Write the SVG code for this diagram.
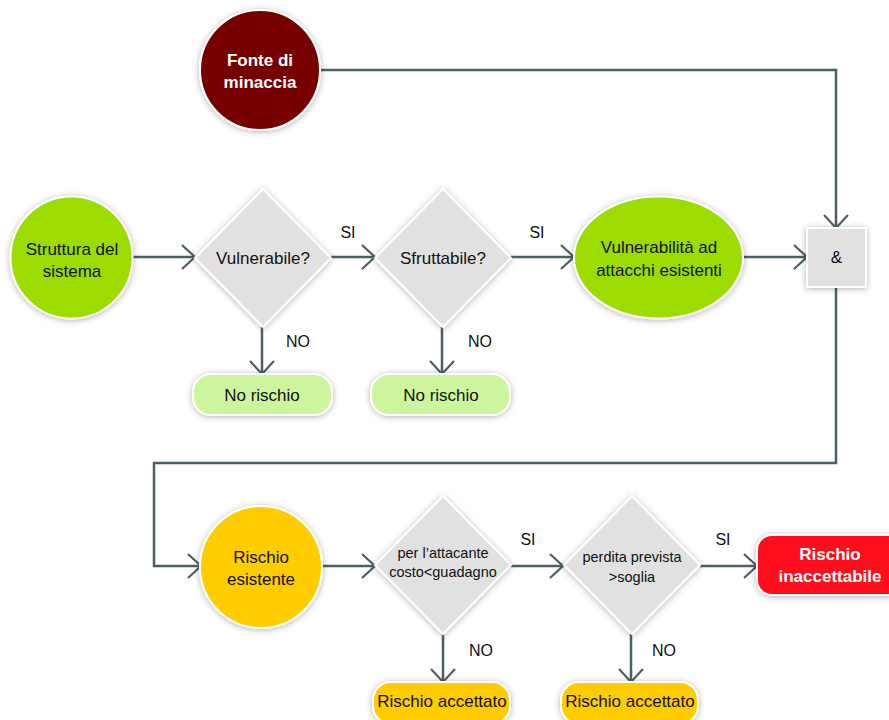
<svg xmlns="http://www.w3.org/2000/svg" width="889" height="720" viewBox="0 0 889 720">
  <defs>
    <filter id="shadow" x="-30%" y="-30%" width="160%" height="160%">
      <feDropShadow dx="0" dy="1" stdDeviation="3" flood-color="#000" flood-opacity="0.3"/>
    </filter>
    <marker id="chev" viewBox="-15 -14 17 28" refX="0" refY="0" markerWidth="17" markerHeight="28" markerUnits="userSpaceOnUse" orient="auto">
      <path d="M-13,-12 L0,0 L-13,12" fill="none" stroke="#4b5f66" stroke-width="2.2"/>
    </marker>
    <style>
      .node { stroke: #ffffff; stroke-width: 2; filter: url(#shadow); }
      .dark { fill: #760000; }
      .green { fill: #9cdc00; }
      .light { fill: #cdf59e; }
      .yellow { fill: #ffcc00; }
      .red { fill: #ff0a1a; }
      .gray { fill: #e1e1e1; }
      .t { font-family: "Liberation Sans", Arial, sans-serif; font-size: 17px; fill: #111; text-anchor: middle; }
      .s { font-size: 14.5px; }
      .b { font-weight: bold; fill: #ffffff; }
      .lbl { font-family: "Liberation Sans", Arial, sans-serif; font-size: 16px; fill: #111; text-anchor: middle; }
      .wire { fill: none; stroke: #4b5f66; stroke-width: 2.5; }
      .arrow { marker-end: url(#chev); }
    </style>
  </defs>

  <!-- connectors -->
  <g id="connectors">
    <path class="wire arrow" d="M320,70 H836 V228"/>
    <path class="wire arrow" d="M132,257 H195"/>
    <path class="wire arrow" d="M331,257 H375"/>
    <path class="wire arrow" d="M511,257 H574"/>
    <path class="wire arrow" d="M743,257 H807"/>
    <path class="wire arrow" d="M836,287 V463 H154 V566 H201"/>
    <path class="wire arrow" d="M262,327 V374"/>
    <path class="wire arrow" d="M442,327 V374"/>
    <path class="wire arrow" d="M322,566 H375"/>
    <path class="wire arrow" d="M511,566 H563"/>
    <path class="wire arrow" d="M700,566 H757"/>
    <path class="wire arrow" d="M443,634 V682"/>
    <path class="wire arrow" d="M631,634 V682"/>
    <text class="lbl" x="348" y="238">SI</text>
    <text class="lbl" x="537" y="238">SI</text>
    <text class="lbl" x="298" y="347">NO</text>
    <text class="lbl" x="480" y="347">NO</text>
    <text class="lbl" x="528" y="545">SI</text>
    <text class="lbl" x="723" y="545">SI</text>
    <text class="lbl" x="481" y="656">NO</text>
    <text class="lbl" x="664" y="656">NO</text>
  </g>

  <g id="fonte">
    <circle class="node dark" cx="260" cy="70" r="60"/>
    <text class="t b" x="260" y="66">Fonte di</text>
    <text class="t b" x="260" y="88">minaccia</text>
  </g>

  <g id="struttura">
    <circle class="node green" cx="71.5" cy="257.5" r="61"/>
    <text class="t" x="72" y="255">Struttura del</text>
    <text class="t" x="72" y="277">sistema</text>
  </g>

  <g id="vulnerabile">
    <polygon class="node gray" points="263,189 331,258 263,327 195,258"/>
    <text class="t" x="263" y="264">Vulnerabile?</text>
  </g>

  <g id="sfruttabile">
    <polygon class="node gray" points="443,189 511,258 443,327 375,258"/>
    <text class="t" x="443" y="264">Sfruttabile?</text>
  </g>

  <g id="vulnerabilita">
    <ellipse class="node green" cx="658.5" cy="257.5" rx="84.5" ry="61"/>
    <text class="t" x="659" y="253">Vulnerabilità ad</text>
    <text class="t" x="659" y="276">attacchi esistenti</text>
  </g>

  <g id="and">
    <rect class="node gray" x="807" y="228" width="59" height="59"/>
    <text class="t" x="836.5" y="263">&amp;</text>
  </g>

  <g id="norischio1">
    <rect class="node light" x="193" y="374" width="139" height="41" rx="18"/>
    <text class="t" x="262" y="401">No rischio</text>
  </g>

  <g id="norischio2">
    <rect class="node light" x="371" y="374" width="139" height="41" rx="18"/>
    <text class="t" x="441" y="401">No rischio</text>
  </g>

  <g id="esistente">
    <circle class="node yellow" cx="261" cy="567" r="61"/>
    <text class="t" x="261" y="563">Rischio</text>
    <text class="t" x="261" y="585">esistente</text>
  </g>

  <g id="costo">
    <polygon class="node gray" points="443,496 511,565 443,634 375,565"/>
    <text class="t s" x="443" y="558">per l’attacante</text>
    <text class="t s" x="443" y="577">costo&lt;guadagno</text>
  </g>

  <g id="perdita">
    <polygon class="node gray" points="632,496 700,565 632,634 564,565"/>
    <text class="t s" x="632" y="562">perdita prevista</text>
    <text class="t s" x="632" y="582">&gt;soglia</text>
  </g>

  <g id="inaccettabile">
    <rect class="node red" x="757" y="535" width="146" height="60" rx="15"/>
    <text class="t b" x="830" y="560">Rischio</text>
    <text class="t b" x="830" y="582">inaccettabile</text>
  </g>

  <g id="accettato1">
    <rect class="node yellow" x="373" y="682" width="137" height="42" rx="18"/>
    <text class="t" x="442" y="707">Rischio accettato</text>
  </g>

  <g id="accettato2">
    <rect class="node yellow" x="561" y="682" width="137" height="42" rx="18"/>
    <text class="t" x="630" y="707">Rischio accettato</text>
  </g>
</svg>
